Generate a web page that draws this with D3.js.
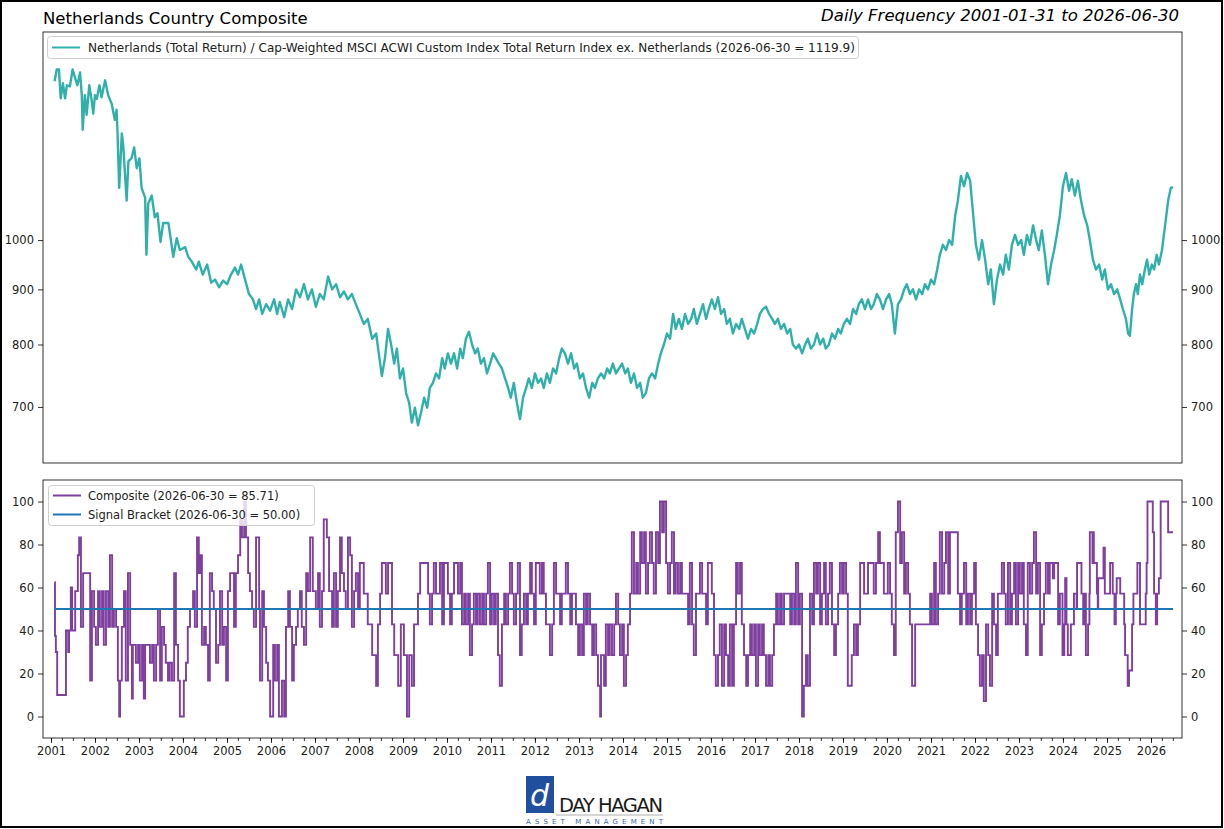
<!DOCTYPE html>
<html>
<head>
<meta charset="utf-8">
<script src="https://cdn.jsdelivr.net/npm/d3@7"></script>
<style>
  body { margin: 0; background: #fff; }
  text { font-family: "DejaVu Sans", sans-serif; }
</style>
</head>
<body>
<svg id="chart" width="1224" height="829"></svg>
<script>
// ---- data ----
var titleLeft = "Netherlands Country Composite";
var titleRight = "Daily Frequency 2001-01-31 to 2026-06-30";
var relLabel = "Netherlands (Total Return) / Cap-Weighted MSCI ACWI Custom Index Total Return Index ex. Netherlands (2026-06-30 = 1119.9)";
var compLabel = "Composite (2026-06-30 = 85.71)";
var signalLabel = "Signal Bracket (2026-06-30 = 50.00)";

var topTicks = [700, 800, 900, 1000];
var bottomTicks = [0, 20, 40, 60, 80, 100];
var signalLevel = 50;
var seriesStart = 2001.08, seriesEnd = 2026.5;

// relative strength line, [decimal year, value]
var relSeries = [
  [2001.08,1404],[2001.13,1440],[2001.18,1440],[2001.22,1354],[2001.27,1398],[2001.32,1354],[2001.36,1392],
  [2001.43,1389],[2001.49,1440],[2001.55,1413],[2001.60,1392],[2001.66,1431],[2001.70,1363],[2001.72,1266],
  [2001.77,1363],[2001.81,1307],[2001.87,1392],[2001.92,1352],[2001.96,1310],[2002.00,1363],[2002.04,1352],
  [2002.10,1392],[2002.15,1357],[2002.23,1407],[2002.30,1363],[2002.38,1338],[2002.45,1293],[2002.49,1321],
  [2002.51,1266],[2002.55,1118],[2002.61,1256],[2002.64,1227],[2002.72,1088],[2002.76,1184],[2002.83,1191],
  [2002.89,1219],[2002.95,1166],[2003.01,1191],[2003.06,1118],[2003.14,1095],[2003.17,969],[2003.21,1081],
  [2003.29,1100],[2003.36,1050],[2003.42,1059],[2003.49,996],[2003.55,1037],[2003.67,1037],[2003.72,1004],
  [2003.78,965],[2003.86,1004],[2003.93,979],[2004.05,985],[2004.12,965],[2004.20,955],[2004.30,939],
  [2004.36,955],[2004.45,929],[2004.55,949],[2004.64,913],[2004.73,919],[2004.82,904],[2004.91,917],
  [2005.00,910],[2005.09,929],[2005.18,943],[2005.25,929],[2005.32,949],[2005.41,919],[2005.50,891],
  [2005.59,881],[2005.66,863],[2005.73,881],[2005.80,854],[2005.89,872],[2005.98,860],[2006.07,881],
  [2006.14,854],[2006.20,876],[2006.30,848],[2006.39,881],[2006.48,863],[2006.57,900],[2006.66,885],
  [2006.75,910],[2006.84,881],[2006.93,900],[2007.02,867],[2007.11,891],[2007.20,881],[2007.30,925],
  [2007.39,900],[2007.48,910],[2007.57,885],[2007.66,896],[2007.75,881],[2007.84,891],[2007.93,872],
  [2008.02,854],[2008.11,836],[2008.20,845],[2008.30,810],[2008.39,819],[2008.45,785],[2008.52,748],
  [2008.59,777],[2008.66,827],[2008.73,800],[2008.80,768],[2008.86,793],[2008.93,744],[2009.00,760],
  [2009.07,721],[2009.14,706],[2009.20,677],[2009.27,699],[2009.34,673],[2009.41,692],[2009.48,714],
  [2009.55,699],[2009.61,729],[2009.68,737],[2009.75,752],[2009.82,744],[2009.89,777],[2009.95,760],
  [2010.02,785],[2010.09,768],[2010.16,785],[2010.23,760],[2010.30,793],[2010.36,777],[2010.43,810],
  [2010.50,822],[2010.57,800],[2010.64,785],[2010.70,793],[2010.77,768],[2010.84,777],[2010.91,752],
  [2010.98,768],[2011.05,785],[2011.11,777],[2011.18,768],[2011.25,760],[2011.32,744],[2011.39,729],
  [2011.45,714],[2011.52,737],[2011.59,706],[2011.66,682],[2011.73,714],[2011.80,729],[2011.86,744],
  [2011.93,729],[2012.00,752],[2012.07,737],[2012.14,744],[2012.20,729],[2012.27,752],[2012.34,737],
  [2012.41,760],[2012.48,752],[2012.55,777],[2012.61,793],[2012.68,785],[2012.75,768],[2012.82,785],
  [2012.89,760],[2012.95,768],[2013.02,744],[2013.09,752],[2013.16,729],[2013.23,714],[2013.30,737],
  [2013.36,729],[2013.43,744],[2013.50,752],[2013.57,744],[2013.64,760],[2013.70,752],[2013.77,768],
  [2013.84,752],[2013.91,760],[2013.98,768],[2014.05,752],[2014.11,760],[2014.18,737],[2014.25,752],
  [2014.32,729],[2014.39,737],[2014.45,714],[2014.52,721],[2014.59,744],[2014.66,752],[2014.73,744],
  [2014.80,768],[2014.86,785],[2014.93,800],[2015.00,819],[2015.07,810],[2015.14,854],[2015.20,827],
  [2015.27,845],[2015.34,827],[2015.41,854],[2015.48,836],[2015.55,845],[2015.61,863],[2015.68,836],
  [2015.75,854],[2015.82,872],[2015.89,845],[2015.95,863],[2016.02,881],[2016.09,863],[2016.16,885],
  [2016.23,854],[2016.30,863],[2016.36,836],[2016.43,845],[2016.50,819],[2016.57,836],[2016.64,827],
  [2016.70,845],[2016.77,827],[2016.84,810],[2016.91,827],[2016.98,819],[2017.05,836],[2017.11,854],
  [2017.18,863],[2017.25,867],[2017.32,854],[2017.39,845],[2017.45,836],[2017.52,845],[2017.59,827],
  [2017.66,836],[2017.73,819],[2017.80,827],[2017.86,800],[2017.93,793],[2018.00,800],[2018.07,785],
  [2018.14,800],[2018.20,810],[2018.27,793],[2018.34,800],[2018.41,819],[2018.48,800],[2018.55,810],
  [2018.61,793],[2018.68,800],[2018.75,819],[2018.82,810],[2018.89,827],[2018.95,819],[2019.02,836],
  [2019.09,845],[2019.16,836],[2019.23,863],[2019.30,854],[2019.36,872],[2019.43,881],[2019.50,863],
  [2019.57,881],[2019.64,863],[2019.70,872],[2019.77,891],[2019.84,881],[2019.91,863],[2019.98,881],
  [2020.05,891],[2020.11,872],[2020.18,819],[2020.25,872],[2020.32,881],[2020.39,900],[2020.45,910],
  [2020.52,891],[2020.59,900],[2020.66,881],[2020.73,900],[2020.80,891],[2020.86,910],[2020.93,900],
  [2021.00,919],[2021.07,910],[2021.14,939],[2021.20,969],[2021.27,990],[2021.34,979],[2021.41,1000],
  [2021.48,990],[2021.55,1054],[2021.61,1088],[2021.68,1147],[2021.75,1122],[2021.82,1154],[2021.89,1135],
  [2021.95,1065],[2022.02,990],[2022.09,959],[2022.16,1000],[2022.23,959],[2022.30,910],[2022.36,939],
  [2022.43,872],[2022.50,919],[2022.57,949],[2022.64,929],[2022.70,969],[2022.77,939],[2022.84,990],
  [2022.91,1011],[2022.98,990],[2023.05,1000],[2023.11,969],[2023.18,1011],[2023.25,990],[2023.32,1032],
  [2023.39,1000],[2023.45,979],[2023.52,1021],[2023.59,969],[2023.66,910],[2023.73,949],[2023.80,979],
  [2023.86,1011],[2023.93,1054],[2024.00,1122],[2024.07,1154],[2024.14,1111],[2024.20,1139],[2024.27,1100],
  [2024.34,1135],[2024.41,1088],[2024.48,1054],[2024.55,1032],[2024.61,1000],[2024.68,959],[2024.75,939],
  [2024.82,949],[2024.89,919],[2024.95,939],[2025.02,900],[2025.09,910],[2025.16,891],[2025.23,900],
  [2025.30,881],[2025.36,863],[2025.43,845],[2025.48,819],[2025.52,815],[2025.57,863],[2025.61,891],
  [2025.66,910],[2025.70,891],[2025.75,929],[2025.80,910],[2025.86,939],[2025.91,959],[2025.96,929],
  [2026.02,949],[2026.07,939],[2026.13,969],[2026.18,949],[2026.25,979],[2026.32,1032],[2026.39,1088],
  [2026.45,1118],[2026.50,1119.9]
];

// composite score, step changes [decimal year, value]
var compSeries = [
  [2001.08,62.5],[2001.09,37.5],[2001.11,30],[2001.14,10],[2001.34,40],[2001.39,30],[2001.41,40],[2001.45,60],
  [2001.48,40],[2001.55,58.33],[2001.61,75],[2001.64,83.33],[2001.68,41.67],[2001.73,66.67],[2001.89,16.67],
  [2001.93,58.33],[2001.98,41.67],[2002.02,33.33],[2002.07,58.33],[2002.11,41.67],[2002.16,58.33],[2002.2,33.33],
  [2002.25,58.33],[2002.3,41.67],[2002.34,75],[2002.39,41.67],[2002.43,50],[2002.48,41.67],[2002.52,16.67],
  [2002.55,0],[2002.57,16.67],[2002.61,41.67],[2002.66,58.33],[2002.7,16.67],[2002.75,66.67],[2002.8,33.33],
  [2002.84,8.33],[2002.86,33.33],[2002.93,25],[2002.98,33.33],[2003.02,16.67],[2003.07,33.33],[2003.11,8.33],
  [2003.14,33.33],[2003.25,25],[2003.3,33.33],[2003.34,16.67],[2003.39,33.33],[2003.43,50],[2003.48,16.67],
  [2003.52,41.67],[2003.57,33.33],[2003.61,25],[2003.66,16.67],[2003.7,25],[2003.75,16.67],[2003.8,66.67],
  [2003.84,33.33],[2003.89,16.67],[2003.93,0],[2004.02,16.67],[2004.07,25],[2004.11,41.67],[2004.16,50],
  [2004.23,58.33],[2004.27,41.67],[2004.32,83.33],[2004.36,66.67],[2004.39,75],[2004.43,33.33],[2004.48,41.67],
  [2004.52,33.33],[2004.57,16.67],[2004.61,66.67],[2004.66,58.33],[2004.7,50],[2004.75,25],[2004.8,33.33],
  [2004.84,58.33],[2004.89,33.33],[2004.93,41.67],[2004.98,16.67],[2005.02,58.33],[2005.07,66.67],[2005.16,41.67],
  [2005.2,66.67],[2005.25,75],[2005.3,91.67],[2005.34,83.33],[2005.39,100],[2005.43,83.33],[2005.48,66.67],
  [2005.52,58.33],[2005.57,50],[2005.61,41.67],[2005.66,83.33],[2005.73,50],[2005.75,16.67],[2005.8,58.33],
  [2005.84,41.67],[2005.89,25],[2005.93,16.67],[2005.98,0],[2006.05,33.33],[2006.09,16.67],[2006.14,33.33],
  [2006.18,0],[2006.25,16.67],[2006.3,0],[2006.34,41.67],[2006.39,58.33],[2006.43,41.67],[2006.48,16.67],
  [2006.52,33.33],[2006.57,41.67],[2006.61,50],[2006.66,58.33],[2006.7,41.67],[2006.75,33.33],[2006.8,66.67],
  [2006.84,58.33],[2006.89,83.33],[2006.95,58.33],[2007.02,50],[2007.07,66.67],[2007.11,41.67],[2007.16,58.33],
  [2007.2,91.67],[2007.27,83.33],[2007.32,58.33],[2007.39,41.67],[2007.43,66.67],[2007.48,41.67],[2007.52,58.33],
  [2007.57,83.33],[2007.61,66.67],[2007.66,58.33],[2007.7,50],[2007.75,83.33],[2007.8,75],[2007.84,41.67],
  [2007.89,58.33],[2007.93,66.67],[2007.98,50],
  [2008.02,71.43],[2008.11,57.14],[2008.2,42.86],[2008.3,28.57],[2008.39,14.29],[2008.43,42.86],[2008.48,57.14],
  [2008.52,71.43],[2008.61,57.14],[2008.66,71.43],[2008.75,42.86],[2008.8,28.57],[2008.89,14.29],[2008.95,42.86],
  [2009.02,28.57],[2009.09,0],[2009.14,28.57],[2009.2,14.29],[2009.25,42.86],[2009.34,57.14],[2009.39,71.43],
  [2009.57,57.14],[2009.61,42.86],[2009.66,57.14],[2009.7,71.43],[2009.75,57.14],[2009.84,71.43],[2009.89,42.86],
  [2009.93,71.43],[2010.02,57.14],[2010.07,42.86],[2010.11,57.14],[2010.16,71.43],[2010.25,57.14],[2010.3,71.43],
  [2010.34,42.86],[2010.39,57.14],[2010.43,42.86],[2010.48,57.14],[2010.52,28.57],[2010.57,42.86],[2010.61,57.14],
  [2010.66,42.86],[2010.7,57.14],[2010.75,42.86],[2010.8,57.14],[2010.84,42.86],[2010.89,57.14],[2010.93,71.43],
  [2010.98,42.86],[2011.02,57.14],[2011.07,42.86],[2011.11,57.14],[2011.16,28.57],[2011.2,14.29],[2011.25,42.86],
  [2011.3,57.14],[2011.34,42.86],[2011.39,57.14],[2011.43,71.43],[2011.48,57.14],[2011.52,42.86],[2011.57,57.14],
  [2011.61,71.43],[2011.66,28.57],[2011.7,42.86],[2011.75,57.14],[2011.8,42.86],[2011.84,57.14],[2011.89,71.43],
  [2011.93,57.14],[2011.98,42.86],[2012.02,71.43],[2012.11,57.14],[2012.16,71.43],[2012.2,57.14],[2012.25,42.86],
  [2012.34,28.57],[2012.39,42.86],[2012.43,71.43],[2012.48,57.14],[2012.57,42.86],[2012.61,57.14],[2012.7,71.43],
  [2012.75,57.14],[2012.8,42.86],[2012.84,57.14],[2012.93,42.86],[2012.98,28.57],[2013.02,42.86],[2013.07,28.57],
  [2013.11,57.14],[2013.16,42.86],[2013.2,57.14],[2013.25,42.86],[2013.3,28.57],[2013.34,42.86],[2013.39,28.57],
  [2013.43,14.29],[2013.48,0],[2013.5,28.57],[2013.57,14.29],[2013.61,42.86],[2013.66,28.57],[2013.7,42.86],
  [2013.75,28.57],[2013.8,42.86],[2013.84,57.14],[2013.89,42.86],[2013.93,28.57],[2013.98,42.86],[2014.02,14.29],
  [2014.07,28.57],[2014.11,42.86],[2014.16,57.14],[2014.2,85.71],[2014.25,57.14],[2014.3,71.43],[2014.34,57.14],
  [2014.39,85.71],[2014.43,71.43],[2014.48,85.71],[2014.52,57.14],[2014.57,71.43],[2014.61,85.71],[2014.66,71.43],
  [2014.7,57.14],[2014.75,85.71],[2014.8,71.43],[2014.84,100],[2014.89,85.71],[2014.93,100],[2014.98,71.43],
  [2015.02,57.14],[2015.07,71.43],[2015.11,85.71],[2015.16,57.14],[2015.2,71.43],[2015.25,57.14],[2015.3,71.43],
  [2015.34,57.14],[2015.48,42.86],[2015.52,71.43],[2015.57,42.86],[2015.61,28.57],[2015.66,57.14],[2015.75,71.43],
  [2015.8,57.14],[2015.89,42.86],[2015.93,71.43],[2016.02,57.14],[2016.07,28.57],[2016.11,14.29],[2016.16,28.57],
  [2016.2,42.86],[2016.25,14.29],[2016.3,42.86],[2016.34,28.57],[2016.39,14.29],[2016.43,42.86],[2016.48,14.29],
  [2016.52,42.86],[2016.57,71.43],[2016.61,57.14],[2016.66,71.43],[2016.7,42.86],[2016.75,28.57],[2016.8,14.29],
  [2016.84,28.57],[2016.89,42.86],[2016.93,28.57],[2016.98,42.86],[2017.02,14.29],[2017.07,42.86],[2017.11,28.57],
  [2017.16,42.86],[2017.2,28.57],[2017.25,14.29],[2017.3,28.57],[2017.34,14.29],[2017.39,28.57],[2017.43,42.86],
  [2017.48,57.14],[2017.52,42.86],[2017.57,57.14],[2017.61,42.86],[2017.66,57.14],[2017.8,42.86],[2017.84,57.14],
  [2017.89,42.86],[2017.93,71.43],[2017.98,42.86],[2018.02,57.14],[2018.07,0],[2018.11,14.29],[2018.16,28.57],
  [2018.2,14.29],[2018.25,57.14],[2018.3,42.86],[2018.34,71.43],[2018.39,57.14],[2018.43,71.43],[2018.48,42.86],
  [2018.52,57.14],[2018.57,71.43],[2018.61,42.86],[2018.66,57.14],[2018.7,71.43],[2018.75,42.86],[2018.8,28.57],
  [2018.84,42.86],[2018.89,57.14],[2018.93,71.43],[2018.98,57.14],[2019.02,71.43],[2019.07,57.14],[2019.11,14.29],
  [2019.2,28.57],[2019.25,42.86],[2019.3,28.57],[2019.34,42.86],[2019.39,71.43],[2019.48,57.14],[2019.57,71.43],
  [2019.7,57.14],[2019.75,71.43],[2019.8,85.71],[2019.84,71.43],[2019.93,57.14],[2020.02,71.43],[2020.07,57.14],
  [2020.11,42.86],[2020.16,28.57],[2020.2,85.71],[2020.25,100],[2020.3,71.43],[2020.34,85.71],[2020.39,57.14],
  [2020.43,71.43],[2020.48,57.14],[2020.52,42.86],[2020.57,14.29],[2020.64,42.86],[2020.98,57.14],[2021.02,42.86],
  [2021.07,71.43],[2021.11,42.86],[2021.16,57.14],[2021.2,85.71],[2021.25,57.14],[2021.3,71.43],[2021.34,85.71],
  [2021.39,57.14],[2021.43,85.71],[2021.61,57.14],[2021.66,42.86],[2021.7,57.14],[2021.75,71.43],[2021.8,42.86],
  [2021.84,57.14],[2021.89,42.86],[2021.93,57.14],[2021.98,71.43],[2022.02,42.86],[2022.07,28.57],[2022.11,14.29],
  [2022.16,28.57],[2022.2,7.14],[2022.25,42.86],[2022.3,28.57],[2022.34,14.29],[2022.39,57.14],[2022.43,42.86],
  [2022.48,28.57],[2022.52,57.14],[2022.61,71.43],[2022.66,57.14],[2022.7,42.86],[2022.75,71.43],[2022.8,42.86],
  [2022.84,57.14],[2022.89,71.43],[2022.93,42.86],[2022.98,71.43],[2023.02,57.14],[2023.07,71.43],[2023.11,42.86],
  [2023.16,28.57],[2023.2,71.43],[2023.25,57.14],[2023.3,71.43],[2023.34,85.71],[2023.39,57.14],[2023.43,71.43],
  [2023.48,28.57],[2023.52,42.86],[2023.57,57.14],[2023.61,71.43],[2023.66,57.14],[2023.7,71.43],[2023.77,64.29],
  [2023.8,71.43],[2023.89,42.86],[2023.93,57.14],[2023.99,28.57],[2024.03,42.86],[2024.05,64.29],[2024.08,42.86],
  [2024.11,28.57],[2024.18,42.86],[2024.25,57.14],[2024.31,50],[2024.32,71.43],[2024.42,57.14],[2024.46,42.86],
  [2024.49,57.14],[2024.52,28.57],[2024.57,42.86],[2024.6,57.14],[2024.61,85.71],[2024.67,71.43],[2024.68,85.71],
  [2024.7,71.43],[2024.77,57.14],[2024.79,50],[2024.8,64.29],[2024.92,78.57],[2024.95,57.14],[2025.07,71.43],
  [2025.13,57.14],[2025.17,42.86],[2025.2,57.14],[2025.22,64.29],[2025.3,57.14],[2025.39,42.86],[2025.41,28.57],
  [2025.47,14.29],[2025.5,21.43],[2025.57,42.86],[2025.6,57.14],[2025.69,71.43],[2025.75,42.86],[2025.88,57.14],
  [2025.9,71.43],[2025.92,100],[2026.04,85.71],[2026.07,57.14],[2026.11,42.86],[2026.14,57.14],[2026.18,64.29],
  [2026.22,100],[2026.39,85.71],[2026.5,85.71]
];

// ---- helpers ----
function yearToDate(t) {
  var y = Math.floor(t);
  var a = Date.UTC(y, 0, 1), b = Date.UTC(y + 1, 0, 1);
  return new Date(a + (t - y) * (b - a));
}

var svg = d3.select("#chart");
var W = 1224, H = 829;
var left = 43, right = 1182;
var top1 = 32, bot1 = 463, top2 = 480, bot2 = 738;

var x = d3.scaleUtc()
  .domain([yearToDate(2000.818), yearToDate(2026.705)])
  .range([left, right]);
var yTop = d3.scaleLog().domain([621, 1560]).range([bot1, top1]);
var yBot = d3.scaleLinear().domain([-10, 110]).range([bot2, top2]);

svg.append("rect").attr("width", W).attr("height", H).attr("fill", "#fff");

// titles
svg.append("text").attr("x", 43).attr("y", 24).attr("font-size", 16.5).attr("fill", "#000").text(titleLeft);
svg.append("text").attr("x", 1179).attr("y", 21).attr("font-size", 16.5).attr("font-style", "italic")
  .attr("text-anchor", "end").attr("fill", "#000").text(titleRight);

// clip paths
var defs = svg.append("defs");
defs.append("clipPath").attr("id", "clipTop").append("rect")
  .attr("x", left).attr("y", top1).attr("width", right - left).attr("height", bot1 - top1);
defs.append("clipPath").attr("id", "clipBot").append("rect")
  .attr("x", left).attr("y", top2).attr("width", right - left).attr("height", bot2 - top2);

// ---- top panel ----
var relLine = d3.line()
  .x(function (d) { return x(yearToDate(d[0])); })
  .y(function (d) { return yTop(d[1]); });

svg.append("path").datum(relSeries)
  .attr("clip-path", "url(#clipTop)")
  .attr("fill", "none").attr("stroke", "#30b0aa").attr("stroke-width", 2.4)
  .attr("stroke-linejoin", "round")
  .attr("d", relLine);

function styleAxis(g) {
  g.select(".domain").remove();
  g.selectAll(".tick line").attr("stroke", "#000").attr("stroke-width", 0.8);
  g.selectAll(".tick text").attr("fill", "#222").attr("font-size", 11.5)
    .attr("font-family", "DejaVu Sans, sans-serif");
}

svg.append("g").attr("transform", "translate(" + left + ",0)")
  .call(d3.axisLeft(yTop).tickValues(topTicks).tickFormat(d3.format("d")).tickSize(5).tickPadding(4))
  .call(styleAxis);
svg.append("g").attr("transform", "translate(" + right + ",0)")
  .call(d3.axisRight(yTop).tickValues(topTicks).tickFormat(d3.format("d")).tickSize(5).tickPadding(4))
  .call(styleAxis);

svg.append("rect").attr("x", left).attr("y", top1).attr("width", right - left).attr("height", bot1 - top1)
  .attr("fill", "none").attr("stroke", "#000").attr("stroke-width", 0.8);

// top legend
var lg1 = svg.append("g");
lg1.append("rect").attr("x", 47.5).attr("y", 36.5).attr("width", 811).attr("height", 22).attr("rx", 3)
  .attr("fill", "#fff").attr("fill-opacity", 0.8).attr("stroke", "#d0d0d0");
lg1.append("line").attr("x1", 52).attr("x2", 80).attr("y1", 47.5).attr("y2", 47.5)
  .attr("stroke", "#30b0aa").attr("stroke-width", 2);
lg1.append("text").attr("x", 88).attr("y", 51.5).attr("font-size", 11.5).attr("fill", "#222")
  .attr("textLength", 767).attr("lengthAdjust", "spacingAndGlyphs").text(relLabel);

// ---- bottom panel ----
var compLine = d3.line()
  .curve(d3.curveStepAfter)
  .x(function (d) { return x(yearToDate(d[0])); })
  .y(function (d) { return yBot(d[1]); });

svg.append("path").datum(compSeries)
  .attr("clip-path", "url(#clipBot)")
  .attr("fill", "none").attr("stroke", "#7e3f9e").attr("stroke-width", 1.9)
  .attr("d", compLine);

svg.append("path").datum([[seriesStart, signalLevel], [seriesEnd, signalLevel]])
  .attr("fill", "none").attr("stroke", "#1f77b4").attr("stroke-width", 2)
  .attr("d", d3.line()
    .x(function (d) { return x(yearToDate(d[0])); })
    .y(function (d) { return yBot(d[1]); }));

svg.append("g").attr("transform", "translate(" + left + ",0)")
  .call(d3.axisLeft(yBot).tickValues(bottomTicks).tickSize(5).tickPadding(4))
  .call(styleAxis);
svg.append("g").attr("transform", "translate(" + right + ",0)")
  .call(d3.axisRight(yBot).tickValues(bottomTicks).tickSize(5).tickPadding(4))
  .call(styleAxis);

// x axis: yearly major, quarterly minor
svg.append("g").attr("transform", "translate(0," + bot2 + ")")
  .call(d3.axisBottom(x).ticks(d3.utcMonth.every(3)).tickFormat("").tickSize(3))
  .call(styleAxis);
svg.append("g").attr("transform", "translate(0," + bot2 + ")")
  .call(d3.axisBottom(x).ticks(d3.utcYear.every(1)).tickFormat(d3.utcFormat("%Y")).tickSize(5).tickPadding(4))
  .call(styleAxis);

svg.append("rect").attr("x", left).attr("y", top2).attr("width", right - left).attr("height", bot2 - top2)
  .attr("fill", "none").attr("stroke", "#000").attr("stroke-width", 0.8);

// bottom legend
var lg2 = svg.append("g");
lg2.append("rect").attr("x", 48.5).attr("y", 485.5).attr("width", 266).attr("height", 40).attr("rx", 3)
  .attr("fill", "#fff").attr("fill-opacity", 0.8).attr("stroke", "#d0d0d0");
lg2.append("line").attr("x1", 53).attr("x2", 81).attr("y1", 495.5).attr("y2", 495.5)
  .attr("stroke", "#7e3f9e").attr("stroke-width", 2);
lg2.append("text").attr("x", 88).attr("y", 499.5).attr("font-size", 11.5).attr("fill", "#222").text(compLabel);
lg2.append("line").attr("x1", 53).attr("x2", 81).attr("y1", 514.5).attr("y2", 514.5)
  .attr("stroke", "#1f77b4").attr("stroke-width", 2);
lg2.append("text").attr("x", 88).attr("y", 518.5).attr("font-size", 11.5).attr("fill", "#222").text(signalLabel);

// ---- logo ----
var logo = svg.append("g");
logo.append("rect").attr("x", 526).attr("y", 776).attr("width", 28).attr("height", 37).attr("fill", "#1f4f9d");
logo.append("text").attr("x", 530).attr("y", 806).attr("font-family", "DejaVu Serif, serif")
  .attr("font-size", 30).attr("font-style", "italic").attr("fill", "#fff").text("d");
logo.append("text").attr("x", 559).attr("y", 812).attr("font-family", "Liberation Serif, serif")
  .attr("font-size", 19.5).attr("fill", "#1a1a1a").attr("textLength", 104).text("DAY HAGAN");
logo.append("line").attr("x1", 556).attr("x2", 663).attr("y1", 815).attr("y2", 815)
  .attr("stroke", "#8a8a8a").attr("stroke-width", 0.7);
logo.append("text").attr("x", 526).attr("y", 824).attr("font-size", 7).attr("fill", "#3a63ad")
  .attr("textLength", 137).attr("lengthAdjust", "spacing").text("ASSET MANAGEMENT");

// figure border
svg.append("rect").attr("x", 1).attr("y", 1).attr("width", W - 3).attr("height", H - 3)
  .attr("fill", "none").attr("stroke", "#000").attr("stroke-width", 2);
</script>
</body>
</html>
